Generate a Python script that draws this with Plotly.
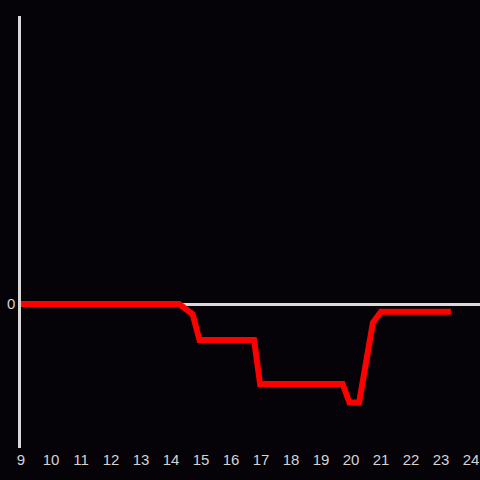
import plotly.graph_objects as go

hours = [9, 10, 11, 12, 13, 14, 14.27, 14.72, 14.95, 16.77, 16.97, 19.72, 19.95, 20.27, 20.73, 21.0, 23.33]
values = [0, 0, 0, 0, 0, 0, 0, -0.07, -0.25, -0.25, -0.556, -0.556, -0.684, -0.684, -0.13, -0.053, -0.053]
x_ticks = list(range(9, 25))

fig = go.Figure(go.Scatter(
    x=hours, y=values, mode="lines",
    line=dict(color="#ff0000", width=6),
    hoverinfo="skip",
))

fig.update_layout(
    width=480, height=480,
    margin=dict(l=21, r=0, t=16, b=32),
    paper_bgcolor="#050308", plot_bgcolor="#050308",
    showlegend=False,
    font=dict(family="Liberation Sans, Arial, sans-serif", size=15, color="#d4d4d4"),
    xaxis=dict(range=[9, 9 + 459 / 30], tickmode="array", tickvals=x_ticks,
               ticktext=[str(t) for t in x_ticks], showgrid=False, zeroline=False,
               showline=False, ticks="", ticklen=0, automargin=False,
               ticklabelstandoff=1),
    yaxis=dict(range=[-1, 2], tickmode="array", tickvals=[0], ticktext=["0"],
               showgrid=False, zeroline=True, zerolinecolor="#d9d9d9", zerolinewidth=2.5,
               showline=True, linecolor="#d9d9d9", linewidth=2.5, ticks="",
               automargin=False),
)

fig.write_html("out.html", config={"displayModeBar": False},
               post_script="document.body.style.margin='0';")
